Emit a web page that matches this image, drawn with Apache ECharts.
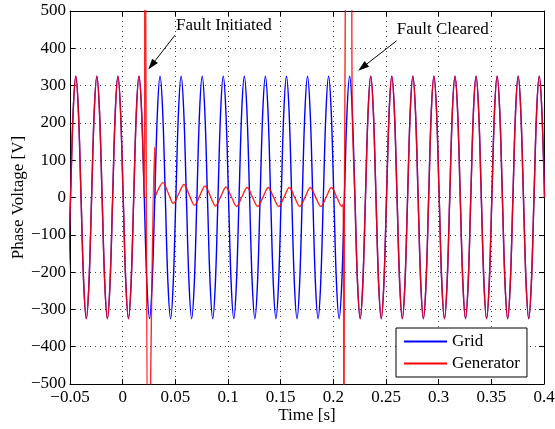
<!DOCTYPE html>
<html>
<head>
<meta charset="utf-8">
<script src="https://cdn.jsdelivr.net/npm/echarts@6/dist/echarts.min.js"></script>
<style>
  html, body { margin: 0; padding: 0; background: #fff; }
  #chart { width: 555px; height: 429px; }
</style>
</head>
<body>
<div id="chart"></div>
<script>
// Grid phase voltage, sampled every 2.5 ms starting at t = -0.052 s
const gridStart = -0.052;
const gridStep = 0.0025;
const gridVoltage = [
  -230, 0, 230, 325, 230, 0, -230, -325,
  -230, 0, 230, 325, 230, 0, -230, -325,
  -230, 0, 230, 325, 230, 0, -230, -325,
  -230, 0, 230, 325, 230, 0, -230, -325,
  -230, 0, 230, 325, 230, 0, -230, -325,
  -230, 0, 230, 325, 230, 0, -230, -325,
  -230, 0, 230, 325, 230, 0, -230, -325,
  -230, 0, 230, 325, 230, 0, -230, -325,
  -230, 0, 230, 325, 230, 0, -230, -325,
  -230, 0, 230, 325, 230, 0, -230, -325,
  -230, 0, 230, 325, 230, 0, -230, -325,
  -230, 0, 230, 325, 230, 0, -230, -325,
  -230, 0, 230, 325, 230, 0, -230, -325,
  -230, 0, 230, 325, 230, 0, -230, -325,
  -230, 0, 230, 325, 230, 0, -230, -325,
  -230, 0, 230, 325, 230, 0, -230, -325,
  -230, 0, 230, 325, 230, 0, -230, -325,
  -230, 0, 230, 325, 230, 0, -230, -325,
  -230, 0, 230, 325, 230, 0, -230, -325,
  -230, 0, 230, 325, 230, 0, -230, -325,
  -230, 0, 230, 325, 230, 0, -230, -325,
  -230, 0, 230, 325, 230, 0, -230, -325,
  -230, 0, 230, 325, 230, 0
];

// Generator follows the grid until the fault (sample index) and again after clearing
const faultStartIndex = 29;   // t = 0.0205 s
const faultClearIndex = 108;  // t = 0.218 s

// Generator voltage while the fault is on
const faultTime = [
  0.0212, 0.0245, 0.0304, 0.0310, 0.0335,
  0.0382, 0.0432, 0.0482, 0.0532,
  0.0582, 0.0632, 0.0682, 0.0732,
  0.0782, 0.0832, 0.0882, 0.0932,
  0.0982, 0.1032, 0.1082, 0.1132,
  0.1182, 0.1232, 0.1282, 0.1332,
  0.1382, 0.1432, 0.1482, 0.1532,
  0.1582, 0.1632, 0.1682, 0.1732,
  0.1782, 0.1832, 0.1882, 0.1932,
  0.1982, 0.2032, 0.2082,
  0.2093, 0.2101, 0.2119, 0.2168
];
const faultVoltage = [
  850, -850, 135, 3, 20,
  40, 12, -16, 10,
  35, 7, -21, 5,
  31, 4, -23, 3,
  28, 2, -24, 2,
  27, 1, -24, 1,
  27, 1, -24, 1,
  27, 1, -24, 1,
  27, 1, -24, 1,
  27, 1, -24,
  -18, -850, 850, 850
];

// Axis ticks
const timeTicks = { min: -0.05, max: 0.4, step: 0.05 };
const voltageTicks = { min: -500, max: 500, step: 100 };

// Annotation text and arrows, in data units
const annotations = [
  { text: 'Fault Initiated', textAt: [0.0506, 462], from: [0.0496, 435], to: [0.0243, 343] },
  { text: 'Fault Cleared',   textAt: [0.2602, 449], from: [0.2600, 420], to: [0.2236, 340] }
];

const FONT = 'Liberation Serif';
const FS = 17;

const gridData = gridVoltage.map((v, i) => [gridStart + i * gridStep, v]);
const genData = gridData.slice(0, faultStartIndex + 1)
  .concat(faultTime.map((t, i) => [t, faultVoltage[i]]))
  .concat(gridData.slice(faultClearIndex));

const minus = s => String(s).replace('-', '\u2212');
const fmtTime = v => minus(+v.toFixed(2));
const fmtVolt = v => minus(Math.round(v));

const dotted = { type: [1, 4], color: '#444', width: 1 };
const frame = { show: true, onZero: false, lineStyle: { color: '#000', width: 1 } };
const tickIn = { show: true, inside: true, length: 5, lineStyle: { color: '#000', width: 1 } };
const txt = { color: '#000', fontFamily: FONT, fontSize: FS };

const chart = echarts.init(document.getElementById('chart'), null, { renderer: 'canvas' });

chart.setOption({
  animation: false,
  backgroundColor: '#fff',
  grid: { left: 70, right: 11, top: 11, bottom: 45, containLabel: false, outerBoundsMode: 'none' },
  xAxis: [
    {
      type: 'value', position: 'bottom',
      min: timeTicks.min, max: timeTicks.max, interval: timeTicks.step,
      axisLine: frame, axisTick: tickIn,
      axisLabel: Object.assign({ margin: 5, formatter: fmtTime, showMinLabel: true, showMaxLabel: true }, txt),
      splitLine: { show: true, lineStyle: dotted },
      name: 'Time [s]', nameLocation: 'middle', nameGap: 23, nameMoveOverlap: false,
      nameTextStyle: txt
    },
    {
      type: 'value', position: 'top',
      min: timeTicks.min, max: timeTicks.max, interval: timeTicks.step,
      axisLine: frame, axisTick: tickIn,
      axisLabel: { show: false }, splitLine: { show: false }
    }
  ],
  yAxis: [
    {
      type: 'value', position: 'left',
      min: voltageTicks.min, max: voltageTicks.max, interval: voltageTicks.step,
      axisLine: frame, axisTick: tickIn,
      axisLabel: Object.assign({ margin: 4, formatter: fmtVolt }, txt),
      splitLine: { show: true, lineStyle: dotted },
      name: 'Phase Voltage [V]', nameLocation: 'middle', nameGap: 43, nameMoveOverlap: false,
      nameTextStyle: txt
    },
    {
      type: 'value', position: 'right',
      min: voltageTicks.min, max: voltageTicks.max, interval: voltageTicks.step,
      axisLine: frame, axisTick: tickIn,
      axisLabel: { show: false }, splitLine: { show: false }
    }
  ],
  legend: {
    orient: 'vertical',
    left: 396, top: 328,
    backgroundColor: '#fff',
    borderColor: '#000', borderWidth: 1, borderRadius: 0,
    padding: [5, 7, 5, 8],
    itemGap: 5,
    itemWidth: 43, itemHeight: 2,
    icon: 'rect',
    textStyle: txt,
    data: ['Grid', 'Generator']
  },
  series: [
    {
      name: 'Grid', type: 'line',
      data: gridData,
      showSymbol: false, smooth: 0.35, clip: true,
      color: '#0000ff',
      lineStyle: { color: '#0000ff', width: 1.4 },
      silent: true
    },
    {
      name: 'Generator', type: 'line',
      data: genData,
      showSymbol: false, smooth: 0.35, clip: true,
      color: '#ff0000',
      lineStyle: { color: '#ff0000', width: 1.4, opacity: 0.85 },
      silent: true
    }
  ]
});

// Annotation captions and arrows placed at their data positions
const toPx = d => chart.convertToPixel({ xAxisIndex: 0, yAxisIndex: 0 }, d);
const graphics = [];
annotations.forEach(a => {
  const p = toPx(a.textAt);
  graphics.push({
    type: 'text', x: p[0], y: p[1], silent: true, z: 100,
    style: { text: a.text, fill: '#000', font: FS + 'px "' + FONT + '"', textAlign: 'left', textVerticalAlign: 'middle' }
  });
  const s = toPx(a.from), e = toPx(a.to);
  const dx = e[0] - s[0], dy = e[1] - s[1];
  const len = Math.hypot(dx, dy), ux = dx / len, uy = dy / len;
  const headLen = 11, headHalf = 3.6;
  const bx = e[0] - ux * headLen, by = e[1] - uy * headLen;
  graphics.push({
    type: 'line', silent: true, z: 100,
    shape: { x1: s[0], y1: s[1], x2: bx, y2: by },
    style: { stroke: '#000', lineWidth: 1 }
  });
  graphics.push({
    type: 'polygon', silent: true, z: 100,
    shape: { points: [[e[0], e[1]], [bx - uy * headHalf, by + ux * headHalf], [bx + uy * headHalf, by - ux * headHalf]] },
    style: { fill: '#000' }
  });
});
chart.setOption({ graphic: graphics });
</script>
</body>
</html>
